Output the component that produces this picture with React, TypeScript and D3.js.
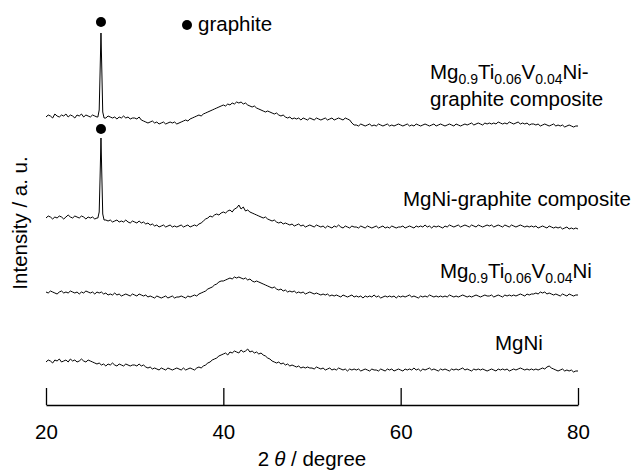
import React, { useRef, useEffect } from 'react';
import * as d3 from 'd3';

// 2θ sampling: 20° .. 80° every 0.25° (values below are heights)
const thetaStart = 20;
const thetaStep = 0.25;

// Mg0.9Ti0.06V0.04Ni-graphite composite (top)
const tiGraphite = [
  13,15,14,12,16,14,13,15,14,16,13,15,14,12,15,14,16,13,15,14,
  13,15,14,13,15,14,13,12,14,13,12,13,11,13,12,14,12,13,11,12,
  12,11,13,10,9,8,7,8,9,7,8,6,7,8,6,7,8,7,8,6,
  7,8,9,10,9,11,12,13,14,15,14,16,17,18,19,20,21,22,23,24,
  25,24,26,25,27,26,28,27,28,26,27,25,24,23,24,22,21,20,19,18,
  19,18,17,16,17,15,14,15,13,12,13,11,12,11,12,10,12,11,10,12,
  11,10,12,11,10,11,12,10,11,12,10,11,12,11,10,12,11,10,7,5,
  5,4,6,5,4,5,6,4,5,4,6,5,4,5,6,4,5,4,5,6,
  5,4,5,6,4,5,4,6,5,4,5,6,5,4,5,6,4,5,6,5,
  4,5,6,5,4,6,5,4,5,6,5,6,7,5,6,7,6,5,7,6,
  7,6,7,6,8,7,6,7,6,8,7,6,7,8,6,7,6,7,5,6,
  6,5,6,4,5,6,5,4,5,6,4,5,4,5,3,4,5,4,3,4,
  4,
];

// MgNi-graphite composite
const mgniGraphite = [
  14,16,15,13,15,14,16,15,13,15,17,15,14,16,15,14,16,15,13,15,
  14,15,13,14,15,14,13,12,11,12,10,11,12,10,11,10,12,10,9,11,
  10,9,11,9,10,8,9,7,8,6,7,5,6,7,5,6,7,5,6,5,
  6,7,5,6,7,5,6,7,6,8,9,11,13,14,16,15,17,18,17,19,
  20,19,21,22,20,23,24,27,23,25,21,22,20,19,18,17,16,15,14,15,
  13,12,11,12,10,9,10,8,9,8,7,8,6,7,8,6,7,5,6,7,
  6,5,7,6,5,6,4,6,5,4,6,5,7,5,4,6,5,4,6,5,
  5,4,6,5,4,6,5,4,5,6,4,5,6,4,5,4,6,5,4,5,
  5,6,4,5,6,5,4,6,5,6,5,7,5,6,4,6,5,6,5,4,
  6,5,7,6,5,6,7,5,6,7,6,5,7,6,5,7,6,5,6,7,
  6,7,5,6,7,6,5,7,6,5,7,6,5,6,7,6,5,6,5,6,
  5,6,4,5,6,5,4,6,5,4,5,4,5,3,4,5,3,4,3,4,
  3,
];

// Mg0.9Ti0.06V0.04Ni
const tiAlloy = [
  8,7,9,8,7,6,8,9,7,8,7,9,8,7,8,6,8,7,9,8,
  7,8,6,8,7,8,6,7,5,6,5,7,5,6,4,5,6,5,4,6,
  5,4,6,5,4,5,3,4,3,2,4,3,2,3,4,2,3,4,2,3,
  3,4,3,2,4,3,4,5,4,6,7,8,9,11,12,13,15,16,18,19,
  19,20,21,22,21,23,22,23,22,21,22,20,21,19,18,19,18,17,16,15,
  14,13,12,13,11,10,11,9,10,8,9,8,9,7,8,7,8,6,7,8,
  7,6,7,6,5,6,5,6,4,5,4,5,4,3,5,4,3,4,5,3,
  4,3,4,2,4,3,4,3,5,3,4,2,3,4,3,4,3,4,2,4,
  3,4,3,4,5,3,4,3,2,4,3,4,3,5,4,3,4,3,4,3,
  4,3,5,4,3,4,3,4,5,4,3,4,3,4,5,4,3,4,5,4,
  4,5,3,4,5,4,3,5,4,5,4,5,4,5,6,5,4,6,5,6,
  6,7,6,8,7,8,6,7,6,5,6,5,4,6,5,4,6,5,4,5,
  5,
];

// MgNi (bottom)
const mgni = [
  13,15,14,12,15,14,16,13,14,15,13,16,14,15,13,14,16,14,13,15,
  14,13,12,11,12,10,11,9,11,10,12,10,9,11,10,9,11,10,9,10,
  10,9,11,9,10,8,7,8,6,7,6,5,7,6,5,7,6,5,6,7,
  6,5,7,5,6,7,6,5,7,8,7,9,10,12,13,15,16,17,19,20,
  21,22,20,23,22,24,23,22,25,23,24,26,23,24,22,23,21,22,20,19,
  17,16,14,13,12,13,11,12,10,11,9,10,9,8,9,7,8,7,8,7,
  7,6,8,7,6,7,5,6,7,5,6,5,7,6,5,6,4,6,5,6,
  5,6,4,5,6,5,4,6,5,5,4,6,5,4,6,5,6,4,5,6,
  5,4,6,5,6,5,7,5,6,4,6,5,6,7,5,6,5,4,6,5,
  6,5,4,6,5,6,5,6,7,5,6,5,4,6,5,6,5,6,5,4,
  5,6,5,4,6,5,6,5,6,4,5,6,5,6,7,6,5,6,5,6,
  5,6,5,6,7,6,8,9,7,6,5,4,5,6,4,5,4,5,3,4,
  4,
];

// graphite (002) reflection
const peakTheta = [25.85, 26.0, 26.1, 26.2, 26.3, 26.4, 26.55];
const peakTiGraphite = [13, 20, 58, 97, 58, 18, 12];
const peakMgniGraphite = [14, 20, 55, 94, 55, 18, 12];

const traceOffsets = [275, 173, 105, 30];
const xTicks = [20, 40, 60, 80];

const W = 639;
const H = 470;
const FONT = '"Liberation Sans", Arial, Helvetica, sans-serif';
const FS = 20.5;

const x = d3.scaleLinear().domain([20, 80]).range([46, 578]);
const y = d3.scaleLinear().domain([0, 400]).range([405, 5]);

function buildSeries(vals: number[], offset: number, pT?: number[], pV?: number[]) {
  let pts: [number, number][] = vals.map((v, i) => [thetaStart + i * thetaStep, v + offset]);
  if (pT && pV) {
    const lo = pT[0], hi = pT[pT.length - 1];
    pts = pts.filter(p => p[0] < lo || p[0] > hi);
    pT.forEach((t, i) => pts.push([t, pV[i] + offset]));
    pts.sort((a, b) => a[0] - b[0]);
  }
  return pts;
}

const series = [
  buildSeries(tiGraphite, traceOffsets[0], peakTheta, peakTiGraphite),
  buildSeries(mgniGraphite, traceOffsets[1], peakTheta, peakMgniGraphite),
  buildSeries(tiAlloy, traceOffsets[2]),
  buildSeries(mgni, traceOffsets[3]),
];

const line = d3.line<[number, number]>().x(d => x(d[0])).y(d => y(d[1]));

const Sub = ({ children }: { children: string }) => (
  <tspan fontSize={14} dy={5}>{children}</tspan>
);

const App = () => {
  const axisRef = useRef<SVGGElement>(null);

  useEffect(() => {
    const g = d3.select(axisRef.current);
    g.selectAll('*').remove();
    const axis = d3.axisBottom(x)
      .tickValues(xTicks)
      .tickSizeInner(-17)
      .tickSizeOuter(0)
      .tickPadding(19)
      .tickFormat(d3.format('d'));
    g.call(axis as any);
    g.select('.domain').attr('stroke', '#000').attr('stroke-width', 1.3);
    g.selectAll('.tick line').attr('stroke', '#000').attr('stroke-width', 1.3);
    g.selectAll('.tick text')
      .attr('fill', '#000')
      .style('font-size', `${FS}px`)
      .style('font-family', FONT);
  }, []);

  const peakX = x(peakTheta[3]);

  return (
    <svg width={W} height={H} style={{ position: 'absolute', left: 0, top: 0, background: '#fff' }}
      fontFamily={FONT}>
      {series.map((s, i) => (
        <path key={i} d={line(s) || ''} fill="none" stroke="#000" strokeWidth={1} strokeLinejoin="round" />
      ))}

      {/* graphite markers */}
      <circle cx={peakX} cy={y(traceOffsets[0] + d3.max(peakTiGraphite)!) - 11} r={5} fill="#000" />
      <circle cx={peakX} cy={y(traceOffsets[1] + d3.max(peakMgniGraphite)!) - 9} r={5} fill="#000" />
      <circle cx={187} cy={25} r={5} fill="#000" />
      <text x={198} y={31} fontSize={FS}>graphite</text>

      {/* sample labels */}
      <text x={430} y={79} fontSize={FS}>
        Mg<Sub>0.9</Sub><tspan dy={-5}>Ti</tspan><Sub>0.06</Sub><tspan dy={-5}>V</tspan><Sub>0.04</Sub><tspan dy={-5}>Ni-</tspan>
      </text>
      <text x={430} y={106} fontSize={FS}>graphite composite</text>
      <text x={403} y={206} fontSize={FS}>MgNi-graphite composite</text>
      <text x={440} y={278} fontSize={FS}>
        Mg<Sub>0.9</Sub><tspan dy={-5}>Ti</tspan><Sub>0.06</Sub><tspan dy={-5}>V</tspan><Sub>0.04</Sub><tspan dy={-5}>Ni</tspan>
      </text>
      <text x={495} y={350} fontSize={FS}>MgNi</text>

      <g ref={axisRef} transform={`translate(0,${y(0)})`} />

      <text x={312} y={466} fontSize={FS} textAnchor="middle">
        2<tspan dx={5} fontStyle="italic">θ</tspan> / degree
      </text>
      <text transform="translate(27,223) rotate(-90)" fontSize={FS} textAnchor="middle">Intensity / a. u.</text>
    </svg>
  );
};

export default App;
